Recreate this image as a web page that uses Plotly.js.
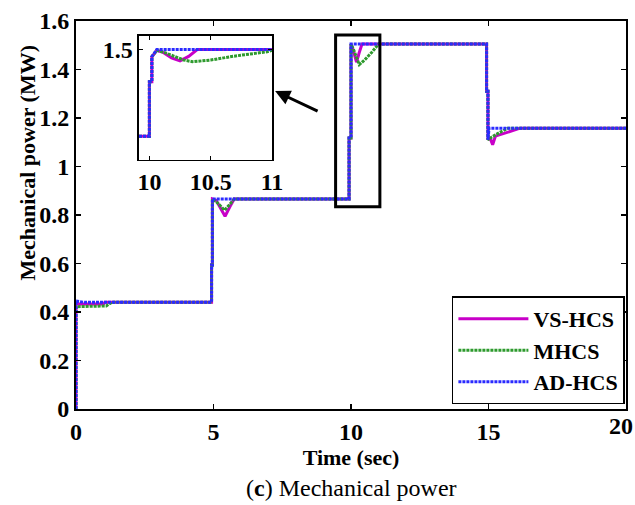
<!DOCTYPE html>
<html>
<head>
<meta charset="utf-8">
<script src="https://cdn.plot.ly/plotly-3.0.1.min.js"></script>
<style>html,body{margin:0;padding:0;background:#fff;}#chart{width:635px;height:505px;}</style>
</head>
<body>
<div id="chart"></div>
<script>
// ---- Data ----
const seriesNames = ["VS-HCS", "MHCS", "AD-HCS"];

// Main plot: VS-HCS
const vsT = [0, 0, 1.0, 1.05, 4.93, 4.93, 4.96, 4.96, 5.1, 5.25, 5.42, 5.6, 5.75, 9.93, 9.93, 10.0, 10.0, 10.08, 10.2, 10.3, 10.4, 14.93, 14.93, 14.98, 14.98, 15.05, 15.15, 15.25, 15.7, 16.15, 20];
const vsV = [0, 0.433, 0.433, 0.44, 0.44, 0.594, 0.594, 0.866, 0.86, 0.83, 0.795, 0.835, 0.866, 0.866, 1.118, 1.118, 1.505, 1.48, 1.43, 1.47, 1.505, 1.505, 1.31, 1.31, 1.11, 1.12, 1.09, 1.125, 1.14, 1.158, 1.158];

// Main plot: MHCS
const mhT = [0, 0, 1.1, 1.3, 4.93, 4.93, 4.96, 4.96, 5.1, 5.4, 5.6, 5.75, 9.93, 9.93, 10.0, 10.0, 10.1, 10.3, 10.5, 10.75, 11.0, 14.93, 14.93, 14.98, 14.98, 15.1, 15.4, 15.7, 20];
const mhV = [0, 0.422, 0.425, 0.44, 0.44, 0.594, 0.594, 0.866, 0.855, 0.82, 0.845, 0.866, 0.866, 1.118, 1.118, 1.505, 1.48, 1.42, 1.44, 1.47, 1.505, 1.505, 1.31, 1.31, 1.11, 1.12, 1.14, 1.158, 1.158];

// Main plot: AD-HCS
const adT = [0, 0, 0.3, 4.93, 4.93, 4.96, 4.96, 9.93, 9.93, 10.0, 10.0, 14.93, 14.93, 14.98, 14.98, 15.02, 20];
const adV = [0, 0.445, 0.44, 0.44, 0.594, 0.594, 0.866, 0.866, 1.118, 1.118, 1.505, 1.505, 1.31, 1.31, 1.11, 1.158, 1.158];

// Inset (zoom on 9.9 - 11 s)
const inVsT = [9.915, 10.0, 10.0, 10.02, 10.02, 10.06, 10.11, 10.18, 10.25, 10.32, 10.39, 11.0];
const inVsV = [1.186, 1.186, 1.383, 1.383, 1.474, 1.497, 1.49, 1.47, 1.459, 1.475, 1.5, 1.5];
const inMhT = [9.915, 10.0, 10.0, 10.02, 10.02, 10.06, 10.12, 10.2, 10.28, 10.35, 10.5, 10.69, 10.85, 10.96, 11.0];
const inMhV = [1.186, 1.186, 1.383, 1.383, 1.474, 1.497, 1.49, 1.475, 1.462, 1.456, 1.462, 1.476, 1.485, 1.492, 1.497];
const inAdT = [9.915, 10.0, 10.0, 10.02, 10.02, 10.06, 11.0];
const inAdV = [1.186, 1.186, 1.383, 1.383, 1.474, 1.5, 1.5];

const xTicks = [0, 5, 10, 15, 20];
const xTickText = ["0", "5", "10", "15", ""];
const xEndTick = [20];
const yTicks = [0, 0.2, 0.4, 0.6, 0.8, 1, 1.2, 1.4, 1.6];
const inXTicks = [10, 10.5, 11];
const inYTicks = [1.5];

// ---- Styling ----
const colVS = "#c800c8";
const colMH = "#2e9a2e";
const colAD = "#2a2aff";
const serif = "Liberation Serif";
const lw = 3;

const traces = [
  {x: vsT, y: vsV, name: seriesNames[0], mode: "lines", line: {color: colVS, width: lw}, xaxis: "x", yaxis: "y"},
  {x: mhT, y: mhV, name: seriesNames[1], mode: "lines", line: {color: colMH, width: lw, dash: "3px,1px"}, xaxis: "x", yaxis: "y"},
  {x: adT, y: adV, name: seriesNames[2], mode: "lines", line: {color: colAD, width: lw, dash: "3px,1px"}, xaxis: "x", yaxis: "y"},
  {x: inVsT, y: inVsV, showlegend: false, mode: "lines", line: {color: colVS, width: lw}, xaxis: "x2", yaxis: "y2"},
  {x: inMhT, y: inMhV, showlegend: false, mode: "lines", line: {color: colMH, width: lw, dash: "3px,1px"}, xaxis: "x2", yaxis: "y2"},
  {x: inAdT, y: inAdV, showlegend: false, mode: "lines", line: {color: colAD, width: lw, dash: "3px,1px"}, xaxis: "x2", yaxis: "y2"}
];

function tf() { return {family: serif, size: 24, color: "#000", weight: "bold"}; }

const layout = {
  width: 635, height: 505,
  font: {family: serif, color: "#000"},
  margin: {l: 76, r: 9, t: 21, b: 96},
  paper_bgcolor: "#fff", plot_bgcolor: "rgba(0,0,0,0)",
  showlegend: true,
  legend: {
    x: 0.998, xanchor: "right", y: 0.012, yanchor: "bottom",
    bgcolor: "#fff", bordercolor: "#000", borderwidth: 1.5,
    font: {family: serif, size: 22, color: "#000", weight: "bold"},
    itemwidth: 70, tracegroupgap: 0
  },
  xaxis: {
    range: [0, 20], tickvals: xTicks, ticktext: xTickText, ticks: "inside", ticklen: 5, tickwidth: 1.5, tickcolor: "#000",
    showline: true, linecolor: "#000", linewidth: 2, mirror: "ticks", showgrid: false, zeroline: false,
    tickfont: tf(),
    title: {text: "Time (sec)", font: {family: serif, size: 22, color: "#000", weight: "bold"}, standoff: 6}
  },
  xaxis3: {
    overlaying: "x", anchor: "y", side: "bottom", range: [0, 20], tickvals: xEndTick,
    ticks: "", showline: false, showgrid: false, zeroline: false,
    tickfont: tf(), ticklabelshift: -5, ticklabeloverflow: "allow"
  },
  yaxis: {
    range: [0, 1.6], tickvals: yTicks, ticks: "inside", ticklen: 5, tickwidth: 1.5, tickcolor: "#000",
    showline: true, linecolor: "#000", linewidth: 2, mirror: "ticks", showgrid: false, zeroline: false,
    tickfont: tf()
  },
  xaxis2: {
    domain: [0.1145, 0.3564], anchor: "y2", range: [9.915, 11], tickvals: inXTicks,
    ticks: "inside", ticklen: 4, tickwidth: 1.5, tickcolor: "#000",
    showline: true, linecolor: "#000", linewidth: 1.5, mirror: "ticks", showgrid: false, zeroline: false,
    tickfont: tf(), ticklabeloverflow: "allow"
  },
  yaxis2: {
    domain: [0.6418, 0.962], anchor: "x2", range: [1.1, 1.55], tickvals: inYTicks,
    ticks: "inside", ticklen: 4, tickwidth: 1.5, tickcolor: "#000",
    showline: true, linecolor: "#000", linewidth: 1.5, mirror: "ticks", showgrid: false, zeroline: false,
    tickfont: tf()
  },
  shapes: [
    {type: "rect", xref: "x", yref: "y", x0: 9.44, x1: 11.05, y0: 0.834, y1: 1.542, line: {color: "#000", width: 3}}
  ],
  annotations: [
    {xref: "x", yref: "y", x: 7.24, y: 1.311, axref: "x", ayref: "y", ax: 8.84, ay: 1.225,
     text: "", showarrow: true, arrowhead: 2, arrowsize: 1, arrowwidth: 3, arrowcolor: "#000"},
    {xref: "paper", yref: "paper", x: -0.089, y: 0.633, xanchor: "center", yanchor: "middle", textangle: -90,
     text: "<b>Mechanical power (MW)</b>", showarrow: false,
     font: {family: serif, size: 22, color: "#000"}},
    {xref: "paper", yref: "paper", x: 0.5, y: -0.2036, xanchor: "center", yanchor: "middle",
     text: "(<b>c</b>) Mechanical power", showarrow: false,
     font: {family: serif, size: 24, color: "#000"}}
  ]
};

// an invisible trace keeps the overlay axis (x3) active for the end label
traces.push({x: [20], y: [0], xaxis: "x3", yaxis: "y", mode: "markers", marker: {opacity: 0}, showlegend: false, hoverinfo: "skip"});

Plotly.newPlot("chart", traces, layout, {staticPlot: true, displayModeBar: false});
</script>
</body>
</html>
